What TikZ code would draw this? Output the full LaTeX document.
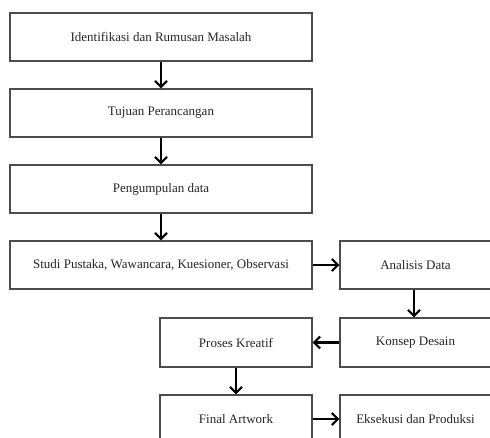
\documentclass[tikz,border=0pt]{standalone}
\usepackage{fontspec}
\setmainfont{Liberation Serif}
\usetikzlibrary{arrows.meta}
\begin{document}
\begin{tikzpicture}[x=1pt,y=-1pt,
  boxst/.style={draw=black!70,line width=1.2pt,fill=white,inner sep=0pt,font=\fontsize{13}{15}\selectfont,text=black!85},
  arr/.style={line width=2.2pt,-{Straight Barb[length=6pt,width=12pt,line width=2.2pt]}}]
\useasboundingbox (0,0) rectangle (490,438);
\clip (0,0) rectangle (490,438);
\fill[white] (0,0) rectangle (490,438);
\node[boxst,minimum width=302pt,minimum height=48pt] (b1) at (161,37) {Identifikasi dan Rumusan Masalah};
\node[boxst,minimum width=302pt,minimum height=48pt] (b2) at (161,113) {Tujuan Perancangan};
\node[boxst,minimum width=302pt,minimum height=48pt] (b3) at (161,189) {Pengumpulan data};
\node[boxst,minimum width=302pt,minimum height=48pt] (b4) at (161,265) {Studi Pustaka, Wawancara, Kuesioner, Observasi};
\node[boxst,minimum width=151pt,minimum height=48pt] (b5) at (415.5,265) {Analisis Data};
\node[boxst,minimum width=151pt,minimum height=49pt] (b6) at (415.5,342.5) {Konsep Desain};
\node[boxst,minimum width=152pt,minimum height=49pt] (b7) at (236,342.5) {Proses Kreatif};
\node[boxst,minimum width=152pt,minimum height=48pt] (b8) at (236,419) {Final Artwork};
\node[boxst,minimum width=151pt,minimum height=48pt] (b9) at (415.5,419) {Eksekusi dan Produksi};
\draw[arr] (b1) -- (b2);
\draw[arr] (b2) -- (b3);
\draw[arr] (b3) -- (b4);
\draw[arr] (b4) -- (b5);
\draw[arr] (b5.south -| 414,0) -- (b6.north -| 414,0);
\draw[arr] (b6) -- (b7);
\draw[arr] (b7) -- (b8);
\draw[arr] (b8) -- (b9);
\end{tikzpicture}
\end{document}
